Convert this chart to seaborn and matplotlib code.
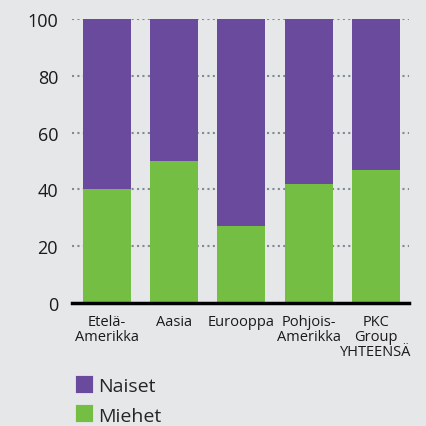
import matplotlib
matplotlib.use("Agg")
import matplotlib.pyplot as plt
from matplotlib.patches import Patch
import pandas as pd
import seaborn as sns

categories = ["Etelä-\nAmerikka", "Aasia", "Eurooppa", "Pohjois-\nAmerikka", "PKC\nGroup\nYHTEENSÄ"]
miehet = [40, 50, 27, 42, 47]
naiset = [60, 50, 73, 58, 53]

BG = "#e6e7e8"
PURPLE = "#6a4a9c"
GREEN = "#74be43"

sns.set_theme(style="white")
plt.rcParams["font.family"] = ["Open Sans", "DejaVu Sans"]

df = pd.DataFrame({"alue": categories, "Miehet": miehet, "Naiset": naiset})
df["total"] = df["Miehet"] + df["Naiset"]

fig = plt.figure(figsize=(4.26, 4.27), dpi=100, facecolor=BG)
ax = fig.add_axes([0.169, 0.288, 0.791, 0.665])
ax.set_facecolor(BG)

# pino: ensin koko pylväs (naiset), sitten miehet päälle
sns.barplot(data=df, x="alue", y="total", color=PURPLE, width=0.714,
            saturation=1, linewidth=0, ax=ax, zorder=3)
sns.barplot(data=df, x="alue", y="Miehet", color=GREEN, width=0.714,
            saturation=1, linewidth=0, ax=ax, zorder=4)

ax.set_ylim(0, 100)
ax.set_xlim(-0.52, 4.49)
ax.set_yticks([0, 20, 40, 60, 80, 100])
ax.yaxis.grid(True, color="#7f8a94", linestyle=(0, (1, 1.6)), linewidth=1.5, zorder=1)
ax.set_axisbelow(True)
ax.set_xlabel("")
ax.set_ylabel("")

for s in ["top", "right", "left"]:
    ax.spines[s].set_visible(False)
ax.spines["bottom"].set_color("black")
ax.spines["bottom"].set_linewidth(2.5)
ax.spines["bottom"].set_zorder(5)

ax.tick_params(axis="y", length=0, pad=10, labelsize=13, labelcolor="#1a1a1a")
ax.tick_params(axis="x", length=0, pad=8, labelsize=10.5, labelcolor="#1a1a1a")
for lbl in ax.get_xticklabels():
    lbl.set_linespacing(1.0)
    lbl.set_horizontalalignment("center")

handles = [Patch(facecolor=PURPLE, edgecolor=PURPLE, linewidth=3, joinstyle="round", label="Naiset"),
           Patch(facecolor=GREEN, edgecolor=GREEN, linewidth=3, joinstyle="round", label="Miehet")]
fig.legend(handles=handles, loc="lower left", bbox_to_anchor=(0.16, -0.02), frameon=False,
           fontsize=14, handlelength=0.65, handleheight=0.65, handletextpad=0.4,
           labelspacing=0.6, borderaxespad=0.1)

fig.savefig("out.png", dpi=100, facecolor=BG)
